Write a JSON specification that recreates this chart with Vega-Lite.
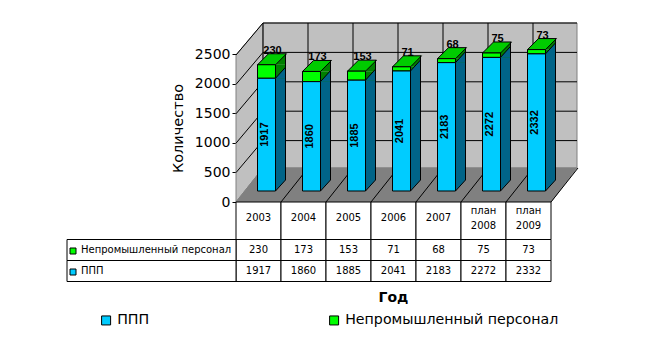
{
"$schema":"https://vega.github.io/schema/vega-lite/v6.json",
"width":651,"height":354,"padding":0,"autosize":{"type":"none"},"background":"white",
"config":{"view":{"stroke":null},"font":"DejaVu Sans"},
"datasets":{
"rows":[
{"year":"2003","series":"Непромышленный персонал","value":230},
{"year":"2004","series":"Непромышленный персонал","value":173},
{"year":"2005","series":"Непромышленный персонал","value":153},
{"year":"2006","series":"Непромышленный персонал","value":71},
{"year":"2007","series":"Непромышленный персонал","value":68},
{"year":"план 2008","series":"Непромышленный персонал","value":75},
{"year":"план 2009","series":"Непромышленный персонал","value":73},
{"year":"2003","series":"ППП","value":1917},
{"year":"2004","series":"ППП","value":1860},
{"year":"2005","series":"ППП","value":1885},
{"year":"2006","series":"ППП","value":2041},
{"year":"2007","series":"ППП","value":2183},
{"year":"план 2008","series":"ППП","value":2272},
{"year":"план 2009","series":"ППП","value":2332}
],
"ticks":[{"tick":0},{"tick":500},{"tick":1000},{"tick":1500},{"tick":2000},{"tick":2500}]
},
"resolve":{"scale":{"x":"independent","y":"independent"}},
"layer":[
{
"encoding":{"x":{"field":"year","type":"nominal","axis":null,"scale":{"type":"band","domain":["2003","2004","2005","2006","2007","план 2008","план 2009"],"range":[236,551],"paddingInner":0,"paddingOuter":0}}},
"layer":[
{"data":{"values":[{"year":"2003"}]},
 "encoding":{"x":{"field":"year","type":"nominal","bandPosition":0},"y":{"datum":0,"type":"quantitative","axis":null,"scale":{"type":"linear","domain":[0,2500],"range":[202,55],"nice":false,"zero":false}}},
 "layer":[
 {"mark":{"type":"point","shape":"M0,0L27,-34V-179L0,-147Z","size":4,"filled":true,"fill":"#c0c0c0","stroke":"#808080","strokeWidth":1,"opacity":1}},
 {"mark":{"type":"point","shape":"M27,-34H341V-179H27Z","size":4,"filled":true,"fill":"#c0c0c0","stroke":"#808080","strokeWidth":1,"opacity":1}},
 {"mark":{"type":"point","shape":"M0,0L27,-34H341L315,0Z","size":4,"filled":true,"fill":"#808080","stroke":"#808080","strokeWidth":1,"opacity":1}}
 ]},
{"data":{"name":"ticks"},"transform":[{"filter":"datum.tick>0"}],
 "encoding":{"x":{"datum":"2003","type":"nominal","bandPosition":0},"y":{"field":"tick","type":"quantitative","axis":null}},
 "layer":[
 {"mark":{"type":"point","shape":"M0,0L27,-32","size":4,"filled":false,"stroke":"#000","strokeWidth":1,"opacity":1}},
 {"mark":{"type":"point","shape":"M27,-32H341","size":4,"filled":false,"stroke":"#000","strokeWidth":1,"opacity":1}}
 ]},
{"data":{"name":"rows"},"transform":[{"filter":"datum.series=='ППП'"}],
 "encoding":{"y":{"datum":0,"type":"quantitative","axis":null}},
 "layer":[
 {"encoding":{"x":{"field":"year","type":"nominal","bandPosition":0}},"mark":{"type":"point","shape":"M27,-34V-179","size":4,"filled":false,"stroke":"#000","strokeWidth":1,"opacity":1}},
 {"encoding":{"x":{"field":"year","type":"nominal","bandPosition":1}},"mark":{"type":"point","shape":"M0,0L27,-34","size":4,"filled":false,"stroke":"#000","strokeWidth":1,"opacity":1}}
 ]},
{"data":{"name":"rows"},
 "transform":[{"stack":"value","groupby":["year"],"sort":[{"field":"series","order":"descending"}],"as":["y0","y1"]},{"calculate":"(datum.y0+datum.y1)/2","as":"mid"}],
 "layer":[
 {"transform":[{"filter":"datum.series!='ППП'"}],
  "mark":{"type":"bar","width":10,"xOffset":22,"yOffset":-11,"y2Offset":-22,"fill":"#008000"},
  "encoding":{"y":{"field":"y1","type":"quantitative","axis":null},"y2":{"datum":0}}},
 {"transform":[{"filter":"datum.series!='ППП'"}],
  "mark":{"type":"point","shape":"M0,0L10,-11V0Z","size":4,"filled":true,"fill":"#008000","xOffset":17,"yOffset":-11,"opacity":1},
  "encoding":{"y":{"field":"y1","type":"quantitative","axis":null}}},
 {"transform":[{"filter":"datum.series=='ППП'"}],
  "mark":{"type":"bar","width":10,"xOffset":22,"yOffset":-11,"y2Offset":-22,"fill":"#006488"},
  "encoding":{"y":{"field":"y1","type":"quantitative","axis":null},"y2":{"datum":0}}},
 {"transform":[{"filter":"datum.series=='ППП'"}],
  "mark":{"type":"point","shape":"M0,0L10,-11V0Z","size":4,"filled":true,"fill":"#006488","xOffset":17,"yOffset":-11,"opacity":1},
  "encoding":{"y":{"field":"y1","type":"quantitative","axis":null}}},
 {"transform":[{"filter":"datum.series=='ППП'"}],
  "mark":{"type":"point","shape":"M0,0V-11H10Z","size":4,"filled":true,"fill":"#006488","xOffset":17,"yOffset":-11,"opacity":1},
  "encoding":{"y":{"datum":0,"type":"quantitative","axis":null}}},
 {"mark":{"type":"point","shape":"M0,0L10,-11","size":4,"filled":false,"stroke":"#000","strokeWidth":1,"xOffset":17,"yOffset":-11,"opacity":1},
  "encoding":{"y":{"field":"y0","type":"quantitative","axis":null}}},
 {"transform":[{"filter":"datum.series!='ППП'"}],
  "mark":{"type":"point","shape":"M0,0L11,-11H29L18,0Z","size":4,"filled":true,"fill":"#00cc00","stroke":"#000","strokeWidth":1,"xOffset":-1,"yOffset":-11,"opacity":1},
  "encoding":{"y":{"field":"y1","type":"quantitative","axis":null}}},
 {"transform":[{"filter":"datum.series!='ППП'"}],
  "mark":{"type":"rule","stroke":"#000","strokeWidth":1,"xOffset":27,"yOffset":-22,"y2Offset":-22},
  "encoding":{"y":{"field":"y1","type":"quantitative","axis":null},"y2":{"datum":0}}},
 {"mark":{"type":"bar","width":18,"xOffset":8,"yOffset":-11,"y2Offset":-11,"stroke":"#000","strokeWidth":1},
  "encoding":{"y":{"field":"y1","type":"quantitative","axis":null},"y2":{"field":"y0"},
   "color":{"field":"series","type":"nominal","scale":{"domain":["ППП","Непромышленный персонал"],"range":["#00ccff","#00ff00"]},
    "legend":{"orient":"none","legendX":99,"legendY":313,"direction":"horizontal","columns":2,"columnPadding":177,"title":null,"symbolType":"square","symbolSize":81,"symbolStrokeColor":"#000","symbolStrokeWidth":1,"labelFont":"DejaVu Sans","labelFontSize":14.2,"labelColor":"#000","labelOffset":4,"labelLimit":400,"padding":0}}}},
 {"transform":[{"filter":"datum.series=='ППП'"}],
  "mark":{"type":"text","angle":270,"font":"Liberation Sans","fontWeight":"bold","fontSize":11,"color":"#000","align":"center","baseline":"middle","xOffset":6,"yOffset":-11},
  "encoding":{"y":{"field":"mid","type":"quantitative","axis":null},"text":{"field":"value","type":"quantitative"}}},
 {"transform":[{"filter":"datum.series!='ППП'"}],
  "mark":{"type":"text","font":"Liberation Sans","fontWeight":"bold","fontSize":11,"color":"#000","align":"center","baseline":"middle","xOffset":14,"yOffset":-25},
  "encoding":{"y":{"field":"y1","type":"quantitative","axis":null},"text":{"field":"value","type":"quantitative"}}}
 ]}
]
},
{
"data":{"name":"ticks"},
"mark":{"type":"rule","opacity":0},
"encoding":{"y":{"field":"tick","type":"quantitative","title":"Количество","scale":{"type":"linear","domain":[0,2500],"range":[202,54],"nice":false,"zero":false},
 "axis":{"orient":"left","offset":-236,"values":[0,500,1000,1500,2000,2500],"format":"d","domain":true,"domainColor":"#000","tickColor":"#000","tickSize":4,"grid":false,"labelFont":"DejaVu Sans","labelFontSize":14,"labelColor":"#000","labelPadding":2,"titleFont":"DejaVu Sans","titleFontSize":14.5,"titleFontWeight":"normal","titleColor":"#000","titleX":-58,"titleY":128,"titleAlign":"center","titleBaseline":"middle","titleAngle":270}}}
},
{
"data":{"name":"rows"},
"transform":[{"filter":"datum.series=='ППП'"}],
"encoding":{"x":{"field":"year","type":"nominal","axis":null,"scale":{"type":"band","domain":["2003","2004","2005","2006","2007","план 2008","план 2009"],"range":[236,551],"paddingInner":0,"paddingOuter":0}},
 "y":{"datum":"Год","type":"nominal","axis":null,"scale":{"type":"band","domain":["Год"],"range":[202,239.5],"paddingInner":0,"paddingOuter":0}}},
"layer":[
 {"mark":{"type":"rect","fill":"white","stroke":"#000","strokeWidth":1}},
 {"transform":[{"filter":"indexof(datum.year,' ')<0"}],
  "mark":{"type":"text","fontSize":10,"font":"DejaVu Sans","color":"#000","align":"center","baseline":"middle","yOffset":-2.5},
  "encoding":{"text":{"field":"year"}}},
 {"transform":[{"filter":"indexof(datum.year,' ')>=0"}],
  "mark":{"type":"text","fontSize":10,"font":"DejaVu Sans","color":"#000","lineBreak":" ","lineHeight":15,"align":"center","baseline":"middle","yOffset":-10},
  "encoding":{"text":{"field":"year"}}}
]
},
{
"data":{"name":"rows"},
"encoding":{"x":{"field":"year","type":"nominal","scale":{"type":"band","domain":["2003","2004","2005","2006","2007","план 2008","план 2009"],"range":[236,551],"paddingInner":0,"paddingOuter":0},
 "axis":{"orient":"bottom","title":"Год","labels":false,"ticks":false,"domain":false,"grid":false,"titleX":393,"titleY":-57,"titleFont":"DejaVu Sans","titleFontSize":14,"titleFontWeight":"bold","titleColor":"#000","titleBaseline":"middle","titleAlign":"center"}},
 "y":{"field":"series","type":"nominal","axis":null,"scale":{"type":"band","domain":["Непромышленный персонал","ППП"],"range":[239.5,281.5],"paddingInner":0,"paddingOuter":0}}},
"layer":[
 {"mark":{"type":"rect","fill":"white","stroke":"#000","strokeWidth":1}},
 {"mark":{"type":"text","fontSize":10,"font":"DejaVu Sans","color":"#000","align":"center","baseline":"middle"},
  "encoding":{"text":{"field":"value","type":"quantitative"}}}
]
},
{
"data":{"values":[{"series":"Непромышленный персонал","column":"Показатель"},{"series":"ППП","column":"Показатель"}]},
"encoding":{"x":{"field":"column","type":"nominal","axis":null,"scale":{"type":"band","domain":["Показатель"],"range":[67,236],"paddingInner":0,"paddingOuter":0}},
 "y":{"field":"series","type":"nominal","axis":null,"scale":{"type":"band","domain":["Непромышленный персонал","ППП"],"range":[239.5,281.5],"paddingInner":0,"paddingOuter":0}}},
"layer":[
 {"mark":{"type":"rect","fill":"white","stroke":"#000","strokeWidth":1}},
 {"mark":{"type":"text","fontSize":10,"font":"DejaVu Sans","color":"#000","align":"left","baseline":"middle","xOffset":-70.5},"encoding":{"text":{"field":"series"}}},
 {"mark":{"type":"point","shape":"square","size":36,"filled":true,"stroke":"#000","strokeWidth":1,"xOffset":-78.5,"yOffset":1,"opacity":1},
  "encoding":{"fill":{"field":"series","type":"nominal","legend":null,"scale":{"domain":["ППП","Непромышленный персонал"],"range":["#00ccff","#00ff00"]}}}}
]
}
]
}
